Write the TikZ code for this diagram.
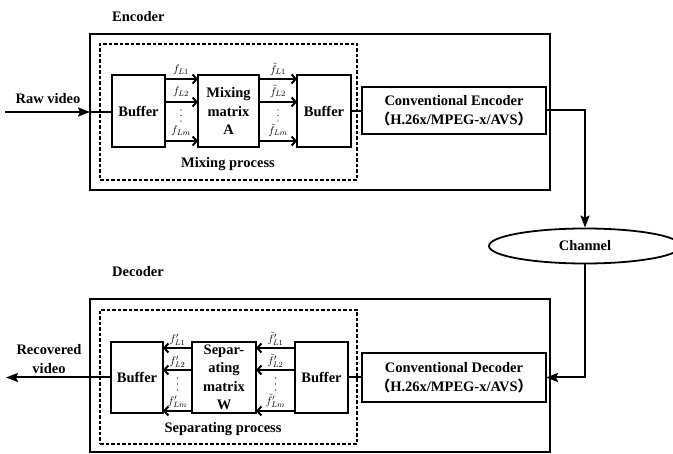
\documentclass[tikz,border=0pt]{standalone}
\usepackage{fontspec}
\setmainfont{Liberation Serif}
\newfontfamily\cjk{Noto Sans CJK SC}
\usetikzlibrary{arrows.meta,shapes.geometric}
\begin{document}
\begin{tikzpicture}[x=1pt,y=-1pt,
  font=\fontsize{14.5}{18.5}\selectfont\bfseries,
  box/.style={draw,line width=2pt,inner sep=0pt,outer sep=0pt,align=center},
  outer/.style={draw,line width=1.7pt,inner sep=0pt,outer sep=0pt},
  dashbox/.style={draw,line width=1.8pt,dash pattern=on 3.5pt off 2pt,inner sep=0pt,outer sep=0pt},
  txt/.style={inner sep=0pt,align=center},
  lab/.style={inner sep=0pt,font=\fontsize{11}{12}\selectfont},
  dot/.style={fill,circle,inner sep=0pt,minimum size=1.3pt},
  inarrow/.style={line width=2pt,-{Straight Barb[length=4pt,width=9pt]}},
  bigarrow/.style={line width=2pt,-{Stealth[length=12pt,width=9pt,inset=2pt]}},
  plain/.style={line width=2pt}]
\clip (0,0) rectangle (673,454);
% ---------------- Encoder ----------------
\node[txt,anchor=west] (enclab) at (112,17) {Encoder};
\node[outer,minimum width=460pt,minimum height=156pt] (encbox) at (320,112) {};
\node[dashbox,minimum width=257pt,minimum height=136pt] (mixdash) at (228.5,112) {};
\node[box,minimum width=53pt,minimum height=72pt] (b1) at (138.5,111) {Buffer};
\node[box,minimum width=61pt,minimum height=72pt] (mx) at (228.5,111) {Mixing\\matrix\\A};
\node[box,minimum width=54pt,minimum height=72pt] (b2) at (324,111) {Buffer};
\node[box,minimum width=184pt,minimum height=47pt] (ce) at (454,110.5) {Conventional Encoder\\{\cjk （}H.26x/MPEG-x/AVS{\cjk ）}};
\node[txt] (mixlab) at (228,164) {Mixing process};
\node[txt] (rawlab) at (48,99) {Raw video};
\coordinate (rawstart) at (5,112);
\coordinate (ea) at (0,79);
\coordinate (eb) at (0,102);
\coordinate (ec) at (0,141);
\draw[bigarrow] (rawstart) -- (rawstart -| encbox.west);
\draw[plain] (rawstart -| encbox.west) -- (rawstart -| b1.west);
\foreach \c in {ea,eb,ec}{
  \draw[inarrow] (b1.east |- \c) -- (mx.west |- \c);
  \draw[inarrow] (mx.east |- \c) -- (b2.west |- \c);
}
\node[lab] (f1) at (181,70) {$f_{L1}$};
\node[lab] (f2) at (181,92) {$f_{L2}$};
\node[lab] (fm) at (181,131) {$f_{Lm}$};
\node[lab] (g1) at (278,69) {$\tilde f_{L1}$};
\node[lab] (g2) at (278,91) {$\tilde f_{L2}$};
\node[lab] (gm) at (278,130) {$\tilde f_{Lm}$};
\foreach \x in {181,278}{
  \foreach \y in {110,115.5,121}{\node[dot] at (\x,\y) {};}
}
\draw[plain] (b2.east) -- (b2.east -| ce.west);
% ---------------- Channel ----------------
\node[draw,ellipse,line width=1.8pt,minimum width=192pt,minimum height=35pt,inner sep=0pt] (ch) at (585,246) {Channel};
\draw[bigarrow] (ce.east) -| (ch.north);
% ---------------- Decoder ----------------
\node[txt,anchor=west] (declab) at (112,272) {Decoder};
\node[outer,minimum width=460pt,minimum height=153pt] (decbox) at (320,375.5) {};
\node[dashbox,minimum width=257pt,minimum height=134pt] (sepdash) at (228.5,377) {};
\node[box,minimum width=52pt,minimum height=71pt] (bl) at (137,377.5) {Buffer};
\node[box,minimum width=64pt,minimum height=71pt] (sm) at (224,377.5) {Separ-\\ating\\matrix\\W};
\node[box,minimum width=53pt,minimum height=71pt] (br) at (321.5,377.5) {Buffer};
\node[box,minimum width=184pt,minimum height=49pt] (cd) at (454,377.5) {Conventional Decoder\\{\cjk （}H.26x/MPEG-x/AVS{\cjk ）}};
\node[txt] (seplab) at (223,429) {Separating process};
\node[txt] (reclab) at (49,359) {Recovered\\video};
\coordinate (recend) at (6,377.5);
\draw[bigarrow] (ch.south) |- (cd.east);
\draw[plain] (cd.west) -- (br.east);
\draw[bigarrow] (bl.west) -- (recend);
\coordinate (da) at (0,348);
\coordinate (db) at (0,370);
\coordinate (dc) at (0,411);
\foreach \c in {da,db,dc}{
  \draw[inarrow] (br.west |- \c) -- (sm.east |- \c);
  \draw[inarrow] (sm.west |- \c) -- (bl.east |- \c);
}
\node[lab] (h1) at (177.5,339.5) {$f'_{L1}$};
\node[lab] (h2) at (177.5,361.5) {$f'_{L2}$};
\node[lab] (hm) at (177.5,401.5) {$f'_{Lm}$};
\node[lab] (k1) at (275.5,339) {$\tilde f'_{L1}$};
\node[lab] (k2) at (275.5,361) {$\tilde f'_{L2}$};
\node[lab] (km) at (275.5,401) {$\tilde f'_{Lm}$};
\foreach \x in {177.5,275.5}{
  \foreach \y in {378,384,390}{\node[dot] at (\x,\y) {};}
}
\end{tikzpicture}
\end{document}
